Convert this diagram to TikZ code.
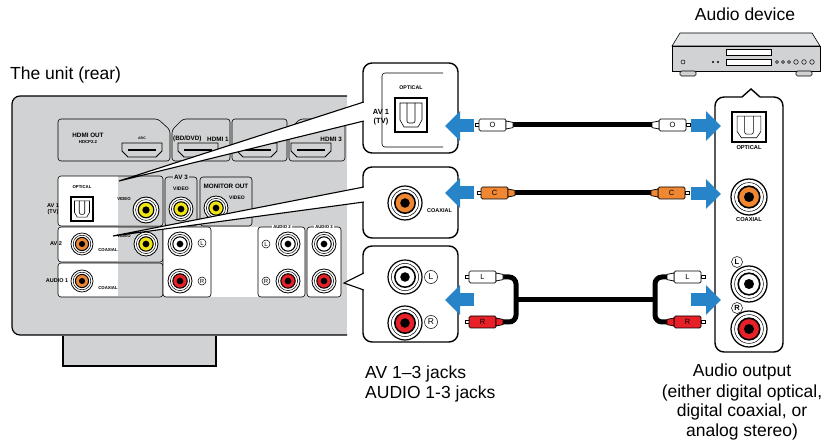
\documentclass[tikz,border=0pt]{standalone}
\usepackage{fontspec}
\setmainfont{Liberation Sans}
\usetikzlibrary{arrows.meta}

\definecolor{panelgray}{RGB}{209,210,211}
\definecolor{jackorange}{RGB}{240,135,50}
\definecolor{jackred}{RGB}{232,32,40}
\definecolor{jackyellow}{RGB}{240,230,20}
\definecolor{arrowblue}{RGB}{40,132,200}

% an RCA jack: centre, radius, colour
\newcommand{\rca}[3]{%
  \fill[white,draw=black,line width=0.07*#2pt] #1 circle (#2pt);
  \draw[line width=0.5] #1 circle ({0.8*#2pt});
  \fill[#3,draw=black,line width=0.09*#2pt] #1 circle ({0.6*#2pt});
  \fill[black] #1 circle ({0.28*#2pt});
}
% an optical port: centre, scope options
\newcommand{\optport}[2]{%
  \begin{scope}[shift={#1},#2]
    \draw[line width=2,fill=white] (-16,-17) rectangle (16,17);
    \draw[line width=0.6] (-11,-12) -- (11,-12) -- (11,5) -- (7,12) -- (-7,12) -- (-11,5) -- cycle;
    \draw[line width=0.6,rounded corners=2] (-4,-12) -- (-4,8) -- (4,8) -- (4,-12);
  \end{scope}}
% a cable plug: tip, direction, colour, letter, name
\newcommand{\plug}[5]{%
  \begin{scope}[shift={#1},xscale=#2]
    \draw[line width=0.6,fill=white] (0,-1.6) rectangle (4,1.6);
    \draw[line width=0.7,fill=#3,rounded corners=1.5] (4,-6) rectangle (31,6);
    \draw[line width=0.7,fill=#3] (31,-4) -- (38,-2.6) -- (38,2.6) -- (31,4) -- cycle;
    \node[font=\fontsize{7.5}{7.5}\selectfont,inner sep=0] (#5) at (17.5,0) {#4};
  \end{scope}}
% an HDMI port: x, y
\newcommand{\hdmiport}[2]{%
  \draw[line width=0.8,fill=panelgray] (#1-20,#2-7) -- (#1+20,#2-7) -- (#1+20,#2+1) -- (#1+14,#2+7) -- (#1-14,#2+7) -- (#1-20,#2+1) -- cycle;
  \draw[line width=2.4] (#1-14,#2) -- (#1+14,#2);}

\begin{document}
\begin{tikzpicture}[
        x=1pt,y=-1pt,
        outline/.style={draw=black,line width=0.6},
        callout/.style={draw=black,line width=1.4,rounded corners=9},
        wedge line/.style={line width=1.1},
        cable/.style={line width=5,rounded corners=7},
        bluearrow/.style={arrowblue,line width=13,-{Triangle[length=15pt,width=29pt]}},
        tiny label/.style={font=\fontsize{4.3}{5}\selectfont\bfseries,inner sep=0},
        mid label/.style={font=\fontsize{5.5}{6}\selectfont\bfseries,inner sep=0},
        small label/.style={font=\fontsize{6.3}{7}\selectfont\bfseries,inner sep=0},
        caption/.style={font=\fontsize{17.5}{20}\selectfont,inner sep=0,anchor=base},
        ring letter/.style={circle,draw,line width=0.5,inner sep=0,minimum size=#1},
        ring letter/.default=8
    ]
    \useasboundingbox (0,0) rectangle (827,443);

    % The unit (rear)
    \node[caption,anchor=base west] (unit label) at (10,80) {The unit (rear)};
    \fill[panelgray,rounded corners=8] (12,96) rectangle (362,335);
    \fill[white] (347,90) rectangle (363,340);
    \draw[line width=1.2,rounded corners=8] (347,96) -- (12,96) -- (12,335) -- (347,335);
    \fill[panelgray] (63,336) rectangle (216,366);
    \draw[line width=1.2] (63,336) -- (63,366) -- (216,366) -- (216,336);

    % HDMI row
    \draw[outline,rounded corners=3] (58,119) -- (158,119) -- (170,130) -- (170,161) -- (58,161) -- cycle;
    \draw[outline,rounded corners=3] (172,130) -- (183,119) -- (230,119) -- (230,161) -- (172,161) -- cycle;
    \draw[outline,rounded corners=3] (232,119) rectangle (287,161);
    \draw[outline,rounded corners=3] (289,130) -- (300,119) -- (345,119) -- (345,161) -- (289,161) -- cycle;
    \hdmiport{142}{150}
    \hdmiport{198}{150}
    \hdmiport{257}{150}
    \hdmiport{311}{150}
    \node[small label] (hdmi out) at (88,135) {HDMI OUT};
    \node[tiny label] (hdcp) at (88,142) {HDCP2.2};
    \node[tiny label,font=\fontsize{3.5}{4}\selectfont\bfseries] (arc) at (142,138) {ARC};
    \node[small label,anchor=west] (bd dvd) at (173,139) {(BD/DVD)};
    \node[small label,anchor=west] (hdmi one) at (207,139) {HDMI 1};
    \node[small label,anchor=east] (hdmi three) at (342,139) {HDMI 3};

    % AV 1 / AV 2 / AUDIO 1 column
    \foreach \top/\bot in {176/226,227/262,263/297}{
        \fill[white,rounded corners=3] (58,\top) rectangle (163,\bot);
        \fill[panelgray] (118,\top+0.5) rectangle (162.5,\bot-0.5);
        \draw[outline,rounded corners=3] (58,\top) rectangle (163,\bot);
    }
    \node[tiny label] (av1 optical) at (82,187) {OPTICAL};
    \optport{(82,209)}{scale=0.68}
    \node[mid label,align=center] (av1 name) at (53,209) {AV 1\\(TV)};
    \node[tiny label] (av1 video) at (124,199) {VIDEO};
    \rca{(146,210)}{13}{jackyellow}
    \node[mid label] (av2 name) at (56,244) {AV 2};
    \rca{(82,244)}{11}{jackorange}
    \node[tiny label] (av2 coax) at (108,250) {COAXIAL};
    \node[tiny label] (av2 video) at (124,236) {VIDEO};
    \rca{(146,244)}{12}{jackyellow}
    \node[mid label] (audio1 name) at (57,281) {AUDIO 1};
    \rca{(82,281)}{11}{jackorange}
    \node[tiny label] (audio1 coax) at (108,288) {COAXIAL};

    % AV 3 and MONITOR OUT
    \draw[outline,rounded corners=3] (165,177) rectangle (197,226);
    \node[small label,fill=panelgray,inner xsep=1] (av3 name) at (181,177) {AV 3};
    \node[tiny label,font=\fontsize{5}{5}\selectfont\bfseries] (av3 video) at (181,189) {VIDEO};
    \rca{(181,209)}{12}{jackyellow}
    \draw[outline,rounded corners=3] (200,177) rectangle (252,226);
    \node[small label] (monitor out) at (226,186) {MONITOR OUT};
    \node[tiny label,font=\fontsize{5}{5}\selectfont\bfseries] (monitor video) at (237,198) {VIDEO};
    \rca{(216,208)}{12}{jackyellow}

    % analog audio
    \fill[white] (211,227) rectangle (258,297);
    \draw[outline,fill=white,rounded corners=3] (163,227) rectangle (211,297);
    \rca{(180,244)}{12}{white}
    \rca{(180,281)}{12}{jackred}
    \node[ring letter,font=\fontsize{6}{6}\selectfont] (av l) at (202,243) {L};
    \node[ring letter,font=\fontsize{6}{6}\selectfont] (av r) at (202,281) {R};
    \draw[outline,fill=white,rounded corners=3] (258,227) rectangle (305,297);
    \node[tiny label,fill=white,inner xsep=1] (audio2 name) at (282,227) {AUDIO 2};
    \node[ring letter,font=\fontsize{6}{6}\selectfont] (audio2 l) at (266,244) {L};
    \node[ring letter,font=\fontsize{6}{6}\selectfont] (audio2 r) at (266,281) {R};
    \rca{(288,244)}{12}{white}
    \rca{(288,281)}{12}{jackred}
    \draw[outline,fill=white,rounded corners=3] (307,227) rectangle (341,297);
    \node[tiny label,fill=white,inner xsep=1] (audio3 name) at (324,227) {AUDIO 3};
    \rca{(324,244)}{12}{white}
    \rca{(324,281)}{12}{jackred}

    % callout boxes
    \draw[callout,fill=white] (363,63) rectangle (458,153);
    \draw[line width=0.6,rounded corners=3] (443,73) -- (382,73) -- (382,147) -- (443,147);
    \node[tiny label,font=\fontsize{5.3}{6}\selectfont\bfseries] (box optical) at (411,88) {OPTICAL};
    \optport{(411,115)}{}
    \node[font=\fontsize{7.5}{9}\selectfont\bfseries,inner sep=0,align=center] (box av1) at (381,117) {AV 1\\(TV)};
    \draw[callout,fill=white] (363,167) rectangle (458,238);
    \rca{(405,203)}{17}{jackorange}
    \node[tiny label,font=\fontsize{5.5}{6}\selectfont\bfseries,anchor=west] (box coax) at (427,211) {COAXIAL};
    \draw[callout,fill=white] (363,246) rectangle (458,342);
    \rca{(405,277)}{17}{white}
    \rca{(405,323)}{17}{jackred}
    \node[ring letter=13,font=\fontsize{8.5}{8.5}\selectfont] (box l) at (431,277) {L};
    \node[ring letter=13,font=\fontsize{8.5}{8.5}\selectfont] (box r) at (431,322) {R};

    % wedges from the jacks to the boxes
    \coordinate (opt apex) at (119,181);
    \coordinate (opt top) at (363.8,102);
    \coordinate (opt bot) at (363.8,121);
    \coordinate (coax apex) at (113,236);
    \coordinate (coax top) at (363.8,187);
    \coordinate (coax bot) at (363.8,202);
    \coordinate (ana apex) at (344,283);
    \coordinate (ana top) at (363.8,273);
    \coordinate (ana bot) at (363.8,290);
    \fill[white] (opt apex) -- (opt top) -- (opt bot) -- cycle;
    \draw[wedge line] (opt top) -- (opt apex) -- (opt bot);
    \fill[white] (coax apex) -- (coax top) -- (coax bot) -- cycle;
    \draw[wedge line] (coax top) -- (coax apex) -- (coax bot);
    \fill[white] (ana apex) -- (ana top) -- (ana bot) -- cycle;
    \draw[wedge line] (ana top) -- (ana apex) -- (ana bot);

    % Audio device
    \node[caption] (device label) at (745,21) {Audio device};
    \draw[outline,fill=panelgray!60] (680,33) -- (812,33) -- (820,46) -- (672,46) -- cycle;
    \draw[outline,fill=panelgray] (672,46) rectangle (820,71);
    \draw[outline,fill=panelgray,rounded corners=1.5] (680,71) rectangle (696,76);
    \draw[outline,fill=panelgray,rounded corners=1.5] (796,71) rectangle (812,76);
    \draw[outline,fill=white] (726,49) rectangle (771,55);
    \draw[outline,fill=white] (726,59) rectangle (771,65);
    \draw[line width=0.5] (683,62) circle (2);
    \fill (713,62) circle (1.2);
    \fill (718,62) circle (1.2);
    \foreach \x in {777,783,789}{ \draw[line width=0.5] (\x,62) circle (1.5); }
    \foreach \x in {796,804,812}{ \draw[line width=0.5] (\x,62) circle (2.3); }

    % output panel of the device
    \fill[white,rounded corners=9] (715,97) rectangle (783,352);
    \draw[line width=1.4,rounded corners=9] (742,97) -- (715,97) -- (715,352) -- (783,352) -- (783,97) -- (760,97);
    \draw[line width=1.4] (742,97) -- (751,89) -- (760,97);
    \optport{(749,127)}{xscale=1.08,yscale=0.9}
    \node[tiny label,font=\fontsize{5.7}{6}\selectfont\bfseries] (dev optical) at (749,148) {OPTICAL};
    \rca{(749,197)}{18}{jackorange}
    \node[tiny label,font=\fontsize{5.7}{6}\selectfont\bfseries] (dev coax) at (749,220) {COAXIAL};
    \node[ring letter=11,font=\fontsize{7.5}{7.5}\selectfont\bfseries] (dev l) at (737,262) {L};
    \rca{(749,284)}{18}{white}
    \node[ring letter=11,font=\fontsize{7.5}{7.5}\selectfont\bfseries] (dev r) at (737,308) {R};
    \rca{(749,329)}{18}{jackred}

    % cables
    \coordinate (opt cable L) at (513,125);
    \coordinate (opt cable R) at (652,125);
    \draw[cable] (opt cable L) -- (opt cable R);
    \plug{(475,125)}{1}{white}{O}{opt plug L}
    \plug{(690,125)}{-1}{white}{O}{opt plug R}
    \coordinate (coax cable L) at (515,193);
    \coordinate (coax cable R) at (651,193);
    \draw[cable] (coax cable L) -- (coax cable R);
    \plug{(477,193)}{1}{jackorange}{C}{coax plug L}
    \plug{(689,193)}{-1}{jackorange}{C}{coax plug R}
    \coordinate (lin L) at (503,277);
    \coordinate (rin L) at (503,322);
    \coordinate (fork L) at (516,300);
    \coordinate (fork R) at (655,300);
    \coordinate (lin R) at (667,277);
    \coordinate (rin R) at (667,322);
    \draw[cable] (lin L) -| (fork L) |- (rin L);
    \draw[cable] (fork L) -- (fork R);
    \draw[cable] (lin R) -| (fork R) |- (rin R);
    \plug{(465,277)}{1}{white}{L}{l plug L}
    \plug{(465,322)}{1}{jackred}{R}{r plug L}
    \plug{(705,277)}{-1}{white}{L}{l plug R}
    \plug{(705,322)}{-1}{jackred}{R}{r plug R}

    % arrows
    \coordinate (opt in tail) at (474,126);
    \coordinate (opt in tip) at (445,126);
    \coordinate (coax in tail) at (474,193);
    \coordinate (coax in tip) at (445,193);
    \coordinate (ana in tail) at (474,300);
    \coordinate (ana in tip) at (445,300);
    \coordinate (opt out tail) at (691,126);
    \coordinate (opt out tip) at (721,126);
    \coordinate (coax out tail) at (691,194);
    \coordinate (coax out tip) at (721,194);
    \coordinate (ana out tail) at (691,300);
    \coordinate (ana out tip) at (721,300);
    \draw[bluearrow] (opt in tail) -- (opt in tip);
    \draw[bluearrow] (coax in tail) -- (coax in tip);
    \draw[bluearrow] (ana in tail) -- (ana in tip);
    \draw[bluearrow] (opt out tail) -- (opt out tip);
    \draw[bluearrow] (coax out tail) -- (coax out tip);
    \draw[bluearrow] (ana out tail) -- (ana out tip);

    % captions
    \node[caption,anchor=base west] (jacks one) at (365,378) {AV 1--3 jacks};
    \node[caption,anchor=base west] (jacks two) at (365,398) {AUDIO 1-3 jacks};
    \node[caption] (output one) at (742,377) {Audio output};
    \node[caption] (output two) at (742,397) {(either digital optical,};
    \node[caption] (output three) at (742,416.5) {digital coaxial, or};
    \node[caption] (output four) at (742,436) {analog stereo)};
\end{tikzpicture}
\end{document}
